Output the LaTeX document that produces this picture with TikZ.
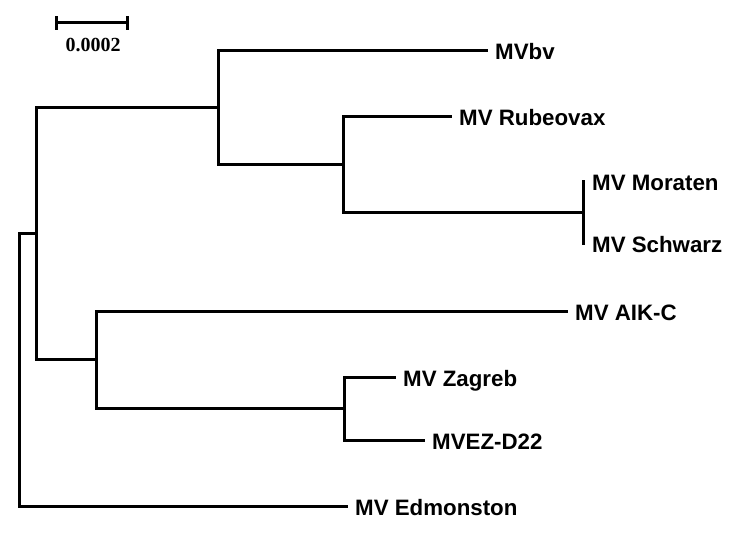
\documentclass[tikz,border=0pt]{standalone}
\usepackage{fontspec}
\setmainfont{Liberation Serif}
\newfontfamily\labelfont{Liberation Sans}
\usepackage{tikz}
\usetikzlibrary{positioning, calc}

\tikzset{
  branch/.style={line width=3pt, line cap=rect},
  leaf/.style={anchor=west, inner xsep=9pt, inner ysep=0pt,
    text height=19pt, text depth=0pt,
    font=\labelfont\bfseries\fontsize{22.3}{24}\selectfont},
}

\begin{document}
\begin{tikzpicture}[x=1pt,y=-1pt]
  \useasboundingbox (0,0) rectangle (741,533);

  % Scale bar
  \draw[branch] (56,22) -- (127,22);
  \draw[branch, line cap=butt] (56,16) -- (56,30);
  \draw[branch, line cap=butt] (127,16) -- (127,30);
  \node[font=\bfseries\fontsize{20}{22}\selectfont] (scale) at (93,45) {0.0002};

  % Internal nodes
  \coordinate (root) at (19,233);
  \coordinate (a) at (36,233);
  \coordinate (b) at (218,107);
  \coordinate (c) at (96,359);
  \coordinate (d) at (343,164);
  \coordinate (e) at (583,212);
  \coordinate (f) at (344,408);

  % Leaves
  \node[leaf] (bv) at (486,50) {MVbv};
  \node[leaf] (rub) at (450,116) {MV Rubeovax};
  \node[leaf] (mor) at (583,181) {MV Moraten};
  \node[leaf] (sch) at (583,243) {MV Schwarz};
  \node[leaf] (aik) at (566,311) {MV AIK-C};
  \node[leaf] (zag) at (394,377) {MV Zagreb};
  \node[leaf] (ez) at (423,440) {MVEZ-D22};
  \node[leaf] (edm) at (346,506) {MV Edmonston};

  % Branches
  \draw[branch] (a) -- (root) |- (edm.west);
  \draw[branch] (a) |- (b);
  \draw[branch] (a) |- (c);
  \draw[branch] (b) |- (bv.west);
  \draw[branch] (b) |- (d);
  \draw[branch] (d) |- (rub.west);
  \draw[branch] (d) |- (e);
  \draw[branch] (e) -- (mor.west);
  \draw[branch] (e) -- (sch.west);
  \draw[branch] (c) |- (aik.west);
  \draw[branch] (c) |- (f);
  \draw[branch] (f) |- (zag.west);
  \draw[branch] (f) |- (ez.west);
\end{tikzpicture}
\end{document}
